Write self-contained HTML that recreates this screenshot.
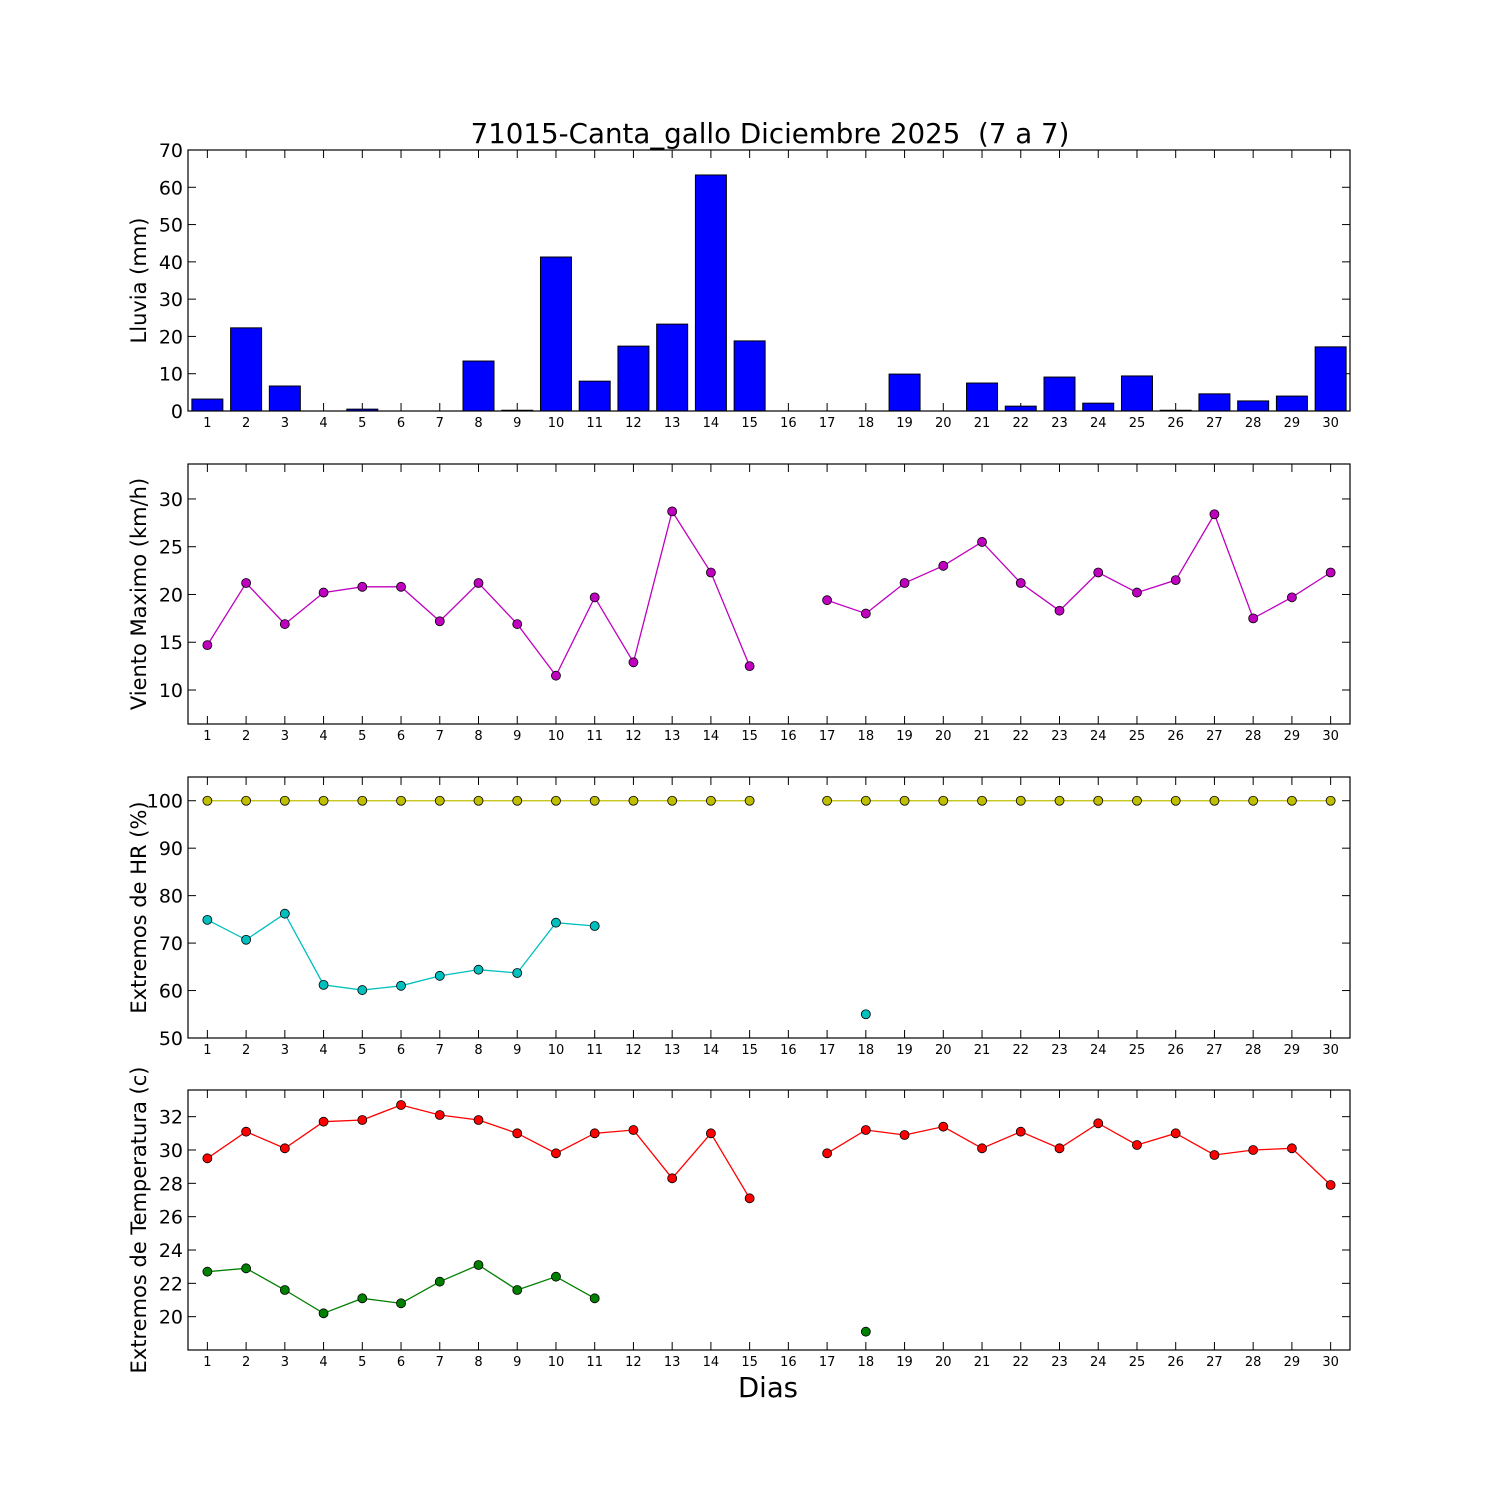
<!DOCTYPE html>
<html><head><meta charset="utf-8"><style>
body{margin:0;background:#fff;}
svg{display:block;font-family:"DejaVu Sans","Liberation Sans",sans-serif;}
</style></head><body>
<svg id="chart" width="1500" height="1500" viewBox="0 0 1500 1500" xmlns="http://www.w3.org/2000/svg">
<rect width="1500" height="1500" fill="#fff"/>
<text x="770" y="143" font-size="27.7" text-anchor="middle" style="white-space:pre" xml:space="preserve">71015-Canta_gallo Diciembre 2025  (7 a 7)</text>
<text x="768" y="1397" font-size="27.5" text-anchor="middle">Dias</text>
<g id="plots"></g>
</svg>
<script>
const days = [1,2,3,4,5,6,7,8,9,10,11,12,13,14,15,16,17,18,19,20,21,22,23,24,25,26,27,28,29,30];
const rain = [3.2,22.3,6.7,0,0.5,0,0,13.4,0.2,41.3,8.0,17.4,23.3,63.3,18.8,0,0,0,9.9,0,7.5,1.3,9.1,2.1,9.4,0.2,4.6,2.7,4.0,17.2];
const wind = [14.7,21.2,16.9,20.2,20.8,20.8,17.2,21.2,16.9,11.5,19.7,12.9,28.7,22.3,12.5,null,19.4,18.0,21.2,23.0,25.5,21.2,18.3,22.3,20.2,21.5,28.4,17.5,19.7,22.3];
const hrMax = [100,100,100,100,100,100,100,100,100,100,100,100,100,100,100,null,100,100,100,100,100,100,100,100,100,100,100,100,100,100];
const hrMin = [74.9,70.7,76.2,61.2,60.1,61.0,63.1,64.4,63.7,74.3,73.6,null,null,null,null,null,null,55.0,null,null,null,null,null,null,null,null,null,null,null,null];
const tMax = [29.5,31.1,30.1,31.7,31.8,32.7,32.1,31.8,31.0,29.8,31.0,31.2,28.3,31.0,27.1,null,29.8,31.2,30.9,31.4,30.1,31.1,30.1,31.6,30.3,31.0,29.7,30.0,30.1,27.9];
const tMin = [22.7,22.9,21.6,20.2,21.1,20.8,22.1,23.1,21.6,22.4,21.1,null,null,null,null,null,null,19.1,null,null,null,null,null,null,null,null,null,null,null,null];
const rainTicks = [0,10,20,30,40,50,60,70];
const windTicks = [10,15,20,25,30];
const hrTicks = [50,60,70,80,90,100];
const tTicks = [20,22,24,26,28,30,32];

const NS='http://www.w3.org/2000/svg';
const root=document.getElementById('plots');
const L=188,R=1350;
function X(d){return L+(d-0.5)*(R-L)/30;}
function mk(tag,attrs,parent){const e=document.createElementNS(NS,tag);for(const k in attrs)e.setAttribute(k,attrs[k]);(parent||root).appendChild(e);return e;}

function panel(name,top,bot,ymin,ymax,ticks,ylabel){
  const g=mk('g',{});
  
  
  const Y=v=>bot-(v-ymin)*(bot-top)/(ymax-ymin);
  ticks.forEach(t=>{
    const y=Y(t);
    mk('line',{x1:L,x2:L+8,y1:y,y2:y,stroke:'#000'},g);
    mk('line',{x1:R-8,x2:R,y1:y,y2:y,stroke:'#000'},g);
    const tx=mk('text',{x:L-5,y:y+7,'font-size':19,'text-anchor':'end'},g);
    
    
    tx.textContent=t;
  });
  days.forEach(d=>{
    const x=X(d);
    mk('line',{x1:x,x2:x,y1:bot,y2:bot-8,stroke:'#000'},g);
    mk('line',{x1:x,x2:x,y1:top,y2:top+8,stroke:'#000'},g);
    const tx=mk('text',{x:x,y:bot+16,'font-size':13,'text-anchor':'middle'},g);
    
    
    tx.textContent=d;
  });
  const cy=(top+bot)/2;
  const yl=mk('text',{x:0,y:0,'font-size':21,'text-anchor':'middle',transform:`translate(146 ${cy}) rotate(-90)`},g);
  
  
  yl.textContent=ylabel;
  return {g,Y,top,bot};
}
function frame(p){mk('rect',{x:L,y:p.top,width:R-L,height:p.bot-p.top,fill:'none',stroke:'#000','stroke-width':1.2},p.g);}
function series(p,vals,color,name){
  let seg=[];
  const segs=[];
  vals.forEach((v,i)=>{if(v===null){if(seg.length)segs.push(seg);seg=[];}else seg.push([X(days[i]),p.Y(v)]);});
  if(seg.length)segs.push(seg);
  segs.forEach(s=>{if(s.length>1){const pl=mk('polyline',{points:s.map(q=>q.join(',')).join(' '),fill:'none',stroke:color,'stroke-width':1.3},p.g);
    
    }});
  vals.forEach((v,i)=>{if(v===null)return;
    const c=mk('circle',{cx:X(days[i]),cy:p.Y(v),r:4.5,fill:color,stroke:'#000','stroke-width':0.8},p.g);
    
    });
}

const p1=panel('rain',150,411,0,70,rainTicks,'Lluvia (mm)');
const bw=0.8*(R-L)/30;
rain.forEach((v,i)=>{
  const y=p1.Y(v);
  const b=mk('rect',{x:X(days[i])-bw/2,y:y,width:bw,height:p1.bot-y,fill:'#0000ff',stroke:'#000','stroke-width':1},p1.g);
  
  
});
frame(p1);

const p2=panel('wind',464,724,6.44,33.66,windTicks,'Viento Maximo (km/h)');
series(p2,wind,'#bf00bf','wind');frame(p2);

const p3=panel('humidity',777,1038,50,105,hrTicks,'Extremos de HR (%)');
series(p3,hrMax,'#bfbf00','hr-max');series(p3,hrMin,'#00bfbf','hr-min');frame(p3);

const p4=panel('temperature',1090,1350,18.0,33.6,tTicks,'Extremos de Temperatura (c)');
series(p4,tMax,'#ff0000','temp-max');series(p4,tMin,'#008000','temp-min');frame(p4);
</script>
</body></html>
